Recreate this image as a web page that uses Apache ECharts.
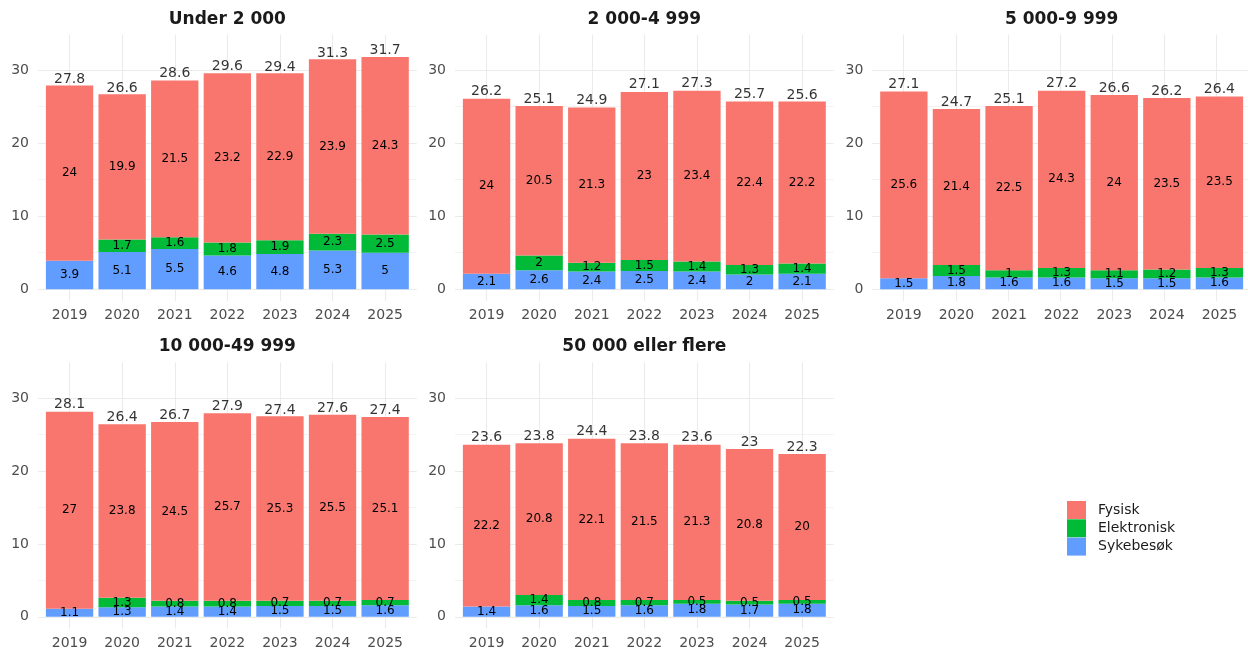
<!DOCTYPE html>
<html>
<head>
<meta charset="utf-8">
<script src="https://cdn.jsdelivr.net/npm/echarts@6/dist/echarts.min.js"></script>
<style>html,body{margin:0;padding:0;background:#fff}#c{width:1248px;height:651px}</style>
</head>
<body>
<div id="c"></div>
<script>
const categories = ['2019','2020','2021','2022','2023','2024','2025'];
const panelTitles = ['Under 2 000','2 000-4 999','5 000-9 999','10 000-49 999','50 000 eller flere'];
const seriesNames = ['Fysisk','Elektronisk','Sykebesøk'];
const yTicks = [0,10,20,30];
const yMinorTicks = [5,15,25];

// Under 2 000
const sykU2   = [3.9,5.1,5.5,4.6,4.8,5.3,5];
const elekU2  = [null,1.7,1.6,1.8,1.9,2.3,2.5];
const fysU2   = [24,19.9,21.5,23.2,22.9,23.9,24.3];
const totU2   = [27.8,26.6,28.6,29.6,29.4,31.3,31.7];
// 2 000-4 999
const syk2k   = [2.1,2.6,2.4,2.5,2.4,2,2.1];
const elek2k  = [null,2,1.2,1.5,1.4,1.3,1.4];
const fys2k   = [24,20.5,21.3,23,23.4,22.4,22.2];
const tot2k   = [26.2,25.1,24.9,27.1,27.3,25.7,25.6];
// 5 000-9 999
const syk5k   = [1.5,1.8,1.6,1.6,1.5,1.5,1.6];
const elek5k  = [null,1.5,1,1.3,1.1,1.2,1.3];
const fys5k   = [25.6,21.4,22.5,24.3,24,23.5,23.5];
const tot5k   = [27.1,24.7,25.1,27.2,26.6,26.2,26.4];
// 10 000-49 999
const syk10k  = [1.1,1.3,1.4,1.4,1.5,1.5,1.6];
const elek10k = [null,1.3,0.8,0.8,0.7,0.7,0.7];
const fys10k  = [27,23.8,24.5,25.7,25.3,25.5,25.1];
const tot10k  = [28.1,26.4,26.7,27.9,27.4,27.6,27.4];
// 50 000 eller flere
const syk50k  = [1.4,1.6,1.5,1.6,1.8,1.7,1.8];
const elek50k = [null,1.4,0.8,0.7,0.5,0.5,0.5];
const fys50k  = [22.2,20.8,22.1,21.5,21.3,20.8,20];
const tot50k  = [23.6,23.8,24.4,23.8,23.6,23,22.3];

const panels = [
  {syk:sykU2, elek:elekU2, fys:fysU2, tot:totU2},
  {syk:syk2k, elek:elek2k, fys:fys2k, tot:tot2k},
  {syk:syk5k, elek:elek5k, fys:fys5k, tot:tot5k},
  {syk:syk10k, elek:elek10k, fys:fys10k, tot:tot10k},
  {syk:syk50k, elek:elek50k, fys:fys50k, tot:tot50k}
];

const colors = {Fysisk:'#F8766D', Elektronisk:'#00BA38', 'Sykebesøk':'#619CFF'};
const FONT = 'DejaVu Sans';
const Y_MIN = -1.585, Y_MAX = 34.87;
const PW = 378.7, PH = 266;
const SLOT = PW / 7.2;
const pos = [
  {left:38, top:34.7}, {left:455, top:34.7}, {left:872.3, top:34.7},
  {left:38, top:362.4}, {left:455, top:362.4}
];
const GRID = '#ebebeb';

const option = {
  animation:false,
  backgroundColor:'#fff',
  title:[], grid:[], xAxis:[], yAxis:[], series:[],
  legend:{
    orient:'vertical', left:1067, top:501, padding:0,
    data:seriesNames, icon:'rect', itemWidth:19, itemHeight:18, itemGap:0.3,
    textStyle:{fontFamily:FONT, fontSize:14, color:'#1a1a1a', padding:[0,0,0,7]}
  }
};

panels.forEach((p, i) => {
  const L = pos[i].left, T = pos[i].top;
  option.title.push({
    text: panelTitles[i], left: L + PW/2, top: T - 24, textAlign:'center', padding:0,
    textStyle:{fontFamily:FONT, fontSize:17, fontWeight:'bold', color:'#1a1a1a'}
  });
  const bg = option.grid.length;
  option.grid.push({left:L, top:T, width:PW, height:PH});
  const fg = option.grid.length;
  option.grid.push({left:L + 0.1*SLOT, top:T, width:7*SLOT, height:PH});

  option.xAxis.push({
    type:'value', gridIndex:bg, min:-0.6, max:6.6,
    axisLine:{show:false}, axisLabel:{show:false},
    axisTick:{show:false, customValues:[0,1,2,3,4,5,6]},
    splitLine:{show:true, lineStyle:{color:GRID, width:1.1}}
  });
  const fgX = option.xAxis.length;
  option.xAxis.push({
    type:'category', gridIndex:fg, data:categories,
    axisLine:{show:false, onZero:false}, axisTick:{show:false},
    axisLabel:{fontFamily:FONT, fontSize:14, color:'#4d4d4d', margin:8},
    splitLine:{show:false}
  });
  option.yAxis.push({
    type:'value', gridIndex:bg, min:Y_MIN, max:Y_MAX,
    axisLine:{show:false},
    axisTick:{show:false, customValues:yTicks},
    axisLabel:{fontFamily:FONT, fontSize:14, color:'#4d4d4d', margin:9, customValues:yTicks},
    splitLine:{show:true, lineStyle:{color:GRID, width:1.1}}
  });
  option.yAxis.push({
    type:'value', gridIndex:bg, min:Y_MIN, max:Y_MAX,
    axisLine:{show:false},
    axisTick:{show:false, customValues:yMinorTicks},
    axisLabel:{show:false, customValues:yMinorTicks},
    splitLine:{show:true, lineStyle:{color:'#f0f0f0', width:0.8}}
  });
  const fgY = option.yAxis.length;
  option.yAxis.push({
    type:'value', gridIndex:fg, min:Y_MIN, max:Y_MAX, show:false,
    splitLine:{show:false}
  });

  const inner = {show:true, position:'inside', fontFamily:FONT, fontSize:12, color:'#000',
                 formatter: d => (d.value == null ? '' : String(d.value))};
  const stack = 'st' + i;
  const mk = (name, data) => ({
    type:'bar', name, stack, xAxisIndex:fgX, yAxisIndex:fgY, data,
    barWidth:'90%', itemStyle:{color:colors[name]}, label:inner, z:3
  });
  option.series.push(mk('Sykebesøk', p.syk));
  option.series.push(mk('Elektronisk', p.elek));
  option.series.push(mk('Fysisk', p.fys));
  option.series.push({
    type:'scatter', xAxisIndex:fgX, yAxisIndex:fgY, data:p.tot, symbolSize:0.01,
    silent:true, z:5,
    label:{show:true, position:'top', distance:0, fontFamily:FONT, fontSize:14, color:'#000',
           formatter: d => String(d.value)}
  });
});

const chart = echarts.init(document.getElementById('c'), null, {renderer:'canvas'});
chart.setOption(option);
</script>
</body>
</html>
